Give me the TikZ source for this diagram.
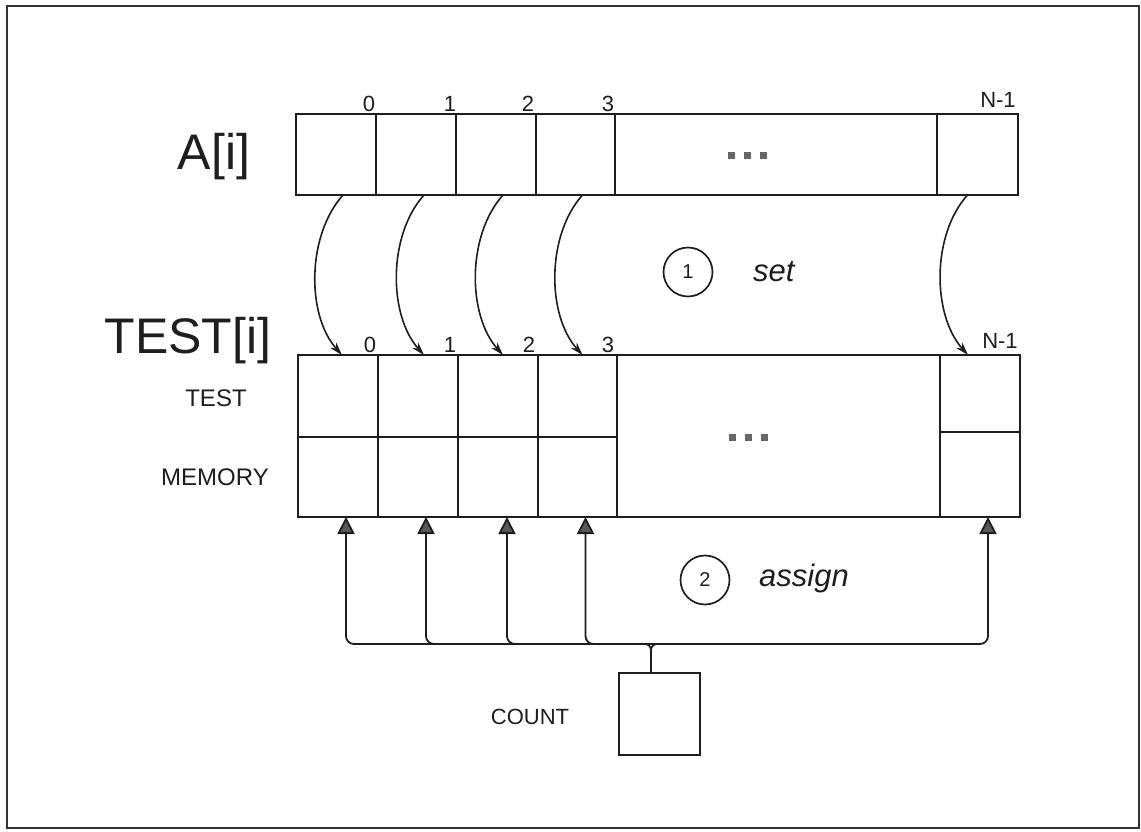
\documentclass[tikz,border=0pt]{standalone}
\usepackage{fontspec}
\setmainfont{Liberation Sans}
\usetikzlibrary{arrows.meta,calc}
\definecolor{ink}{HTML}{1E1E1E}
\begin{document}
\begin{tikzpicture}[x=1pt,y=-1pt,
  ln/.style={draw=ink, line width=1.9pt},
  cell/.style={ln, anchor=north west, inner sep=0pt, outer sep=0pt},
  idx/.style={font=\fontsize{22}{24}\selectfont, text=ink, inner sep=0pt},
  big/.style={font=\fontsize{50}{56}\selectfont, text=ink, inner sep=0pt},
  side/.style={font=\fontsize{24}{26}\selectfont, text=ink, inner sep=0pt},
  circ/.style={circle, draw=ink, line width=1.7pt, minimum size=49pt, inner sep=0pt, font=\fontsize{20}{22}\selectfont, text=ink},
  op/.style={font=\itshape\fontsize{31}{36}\selectfont, text=ink, inner sep=0pt, anchor=west},
  setarrow/.style={draw=ink, line width=1.6pt, -{Stealth[length=13pt,width=8pt]}},
  upt/.style={draw=ink, line width=1.8pt},
  tri/.tip={Triangle[length=17pt,width=17pt,fill=black!65]},
  dotsq/.style={fill=black!60, minimum size=7pt, inner sep=0pt},
]
\useasboundingbox (0,0) rectangle (1141,832);
\draw[line width=2.2pt, draw=black!80] (7,6) rectangle (1139,828);

% ---- array A ----
\node[cell, minimum width=80pt, minimum height=81pt] (a0) at (296,114) {};
\node[cell, minimum width=80pt, minimum height=81pt] (a1) at (376,114) {};
\node[cell, minimum width=80pt, minimum height=81pt] (a2) at (456,114) {};
\node[cell, minimum width=79pt, minimum height=81pt] (a3) at (536,114) {};
\node[cell, minimum width=322pt, minimum height=81pt] (ad) at (615,114) {};
\node[cell, minimum width=81pt, minimum height=81pt] (aN) at (937,114) {};
\foreach \x [count=\i] in {731,747,763} \node[dotsq] (ada\i) at (\x,156) {};

\node[idx] (la0) at (369,104) {0};
\node[idx] (la1) at (450,104) {1};
\node[idx] (la2) at (528,104) {2};
\node[idx] (la3) at (608,104) {3};
\node[idx] (laN) at (998,100) {N-1};
\node[big] (Alab) at (214,157) {A[i]};

% ---- array TEST ----
\node[cell, minimum width=80pt, minimum height=82pt] (t0u) at (298,355) {};
\node[cell, minimum width=80pt, minimum height=82pt] (t1u) at (378,355) {};
\node[cell, minimum width=80pt, minimum height=82pt] (t2u) at (458,355) {};
\node[cell, minimum width=79pt, minimum height=82pt] (t3u) at (538,355) {};
\node[cell, minimum width=80pt, minimum height=80pt] (t0l) at (298,437) {};
\node[cell, minimum width=80pt, minimum height=80pt] (t1l) at (378,437) {};
\node[cell, minimum width=80pt, minimum height=80pt] (t2l) at (458,437) {};
\node[cell, minimum width=79pt, minimum height=80pt] (t3l) at (538,437) {};
\node[cell, minimum width=323pt, minimum height=162pt] (td) at (617,355) {};
\node[cell, minimum width=80pt, minimum height=77pt] (tNu) at (940,355) {};
\node[cell, minimum width=80pt, minimum height=85pt] (tNl) at (940,432) {};
\foreach \x [count=\i] in {732,748,764} \node[dotsq] (tda\i) at (\x,437) {};

\node[idx] (lt0) at (370,345) {0};
\node[idx] (lt1) at (450,345) {1};
\node[idx] (lt2) at (529,345) {2};
\node[idx] (lt3) at (608,345) {3};
\node[idx] (ltN) at (1000,341) {N-1};
\node[big] (Tlab) at (188,341) {TEST[i]};
\node[side] (tst) at (216,398) {TEST};
\node[side] (mem) at (215,477) {MEMORY};

% ---- set arrows ----
\draw[setarrow] ([xshift=7pt]a0.south) .. controls +(-36,40) and +(-36,-40) .. ([xshift=4pt]t0u.north);
\draw[setarrow] ([xshift=8pt]a1.south) .. controls +(-36,40) and +(-36,-40) .. ([xshift=6pt]t1u.north);
\draw[setarrow] ([xshift=7pt]a2.south) .. controls +(-36,40) and +(-36,-40) .. ([xshift=5pt]t2u.north);
\draw[setarrow] ([xshift=7pt]a3.south) .. controls +(-36,40) and +(-36,-40) .. ([xshift=5pt]t3u.north);
\draw[setarrow] ([xshift=-10pt]aN.south) .. controls +(-36,40) and +(-36,-40) .. ([xshift=-12pt]tNu.north);

\node[circ] (c1) at (688,272) {1};
\node[op] (setl) at (753,272) {set};

% ---- assign ----
\node[cell, minimum width=81pt, minimum height=82pt] (cnt) at (619,673) {};
\node[side, font=\fontsize{22}{24}\selectfont] (cntl) at (530,717) {COUNT};
\node[circ] (c2) at (705,580) {2};
\node[op] (asg) at (759,578) {assign};

\coordinate (bus) at (0,644);
\coordinate (u0) at ($(t0l.south)+(8,0)$);
\coordinate (u1) at ($(t1l.south)+(8,0)$);
\coordinate (u2) at ($(t2l.south)+(9,0)$);
\coordinate (u3) at ($(t3l.south)+(8,0)$);
\coordinate (uN) at ($(tNl.south)+(8,0)$);
\coordinate (j) at ($(cnt.north)+(-8.5,0)$);

\draw[upt, rounded corners=8pt, {tri}-{tri}] (u0) -- (u0|-bus) -- (uN|-bus) -- (uN);
\foreach \u in {u1,u2,u3}
  \draw[upt, rounded corners=8pt, -{tri}] ($(\u|-bus)+(16,0)$) -| (\u);
\draw[upt, rounded corners=6pt] ($(j|-bus)+(-14,0)$) -| (j);
\draw[upt, rounded corners=6pt] ($(j|-bus)+(14,0)$) -| (j);
\end{tikzpicture}
\end{document}
